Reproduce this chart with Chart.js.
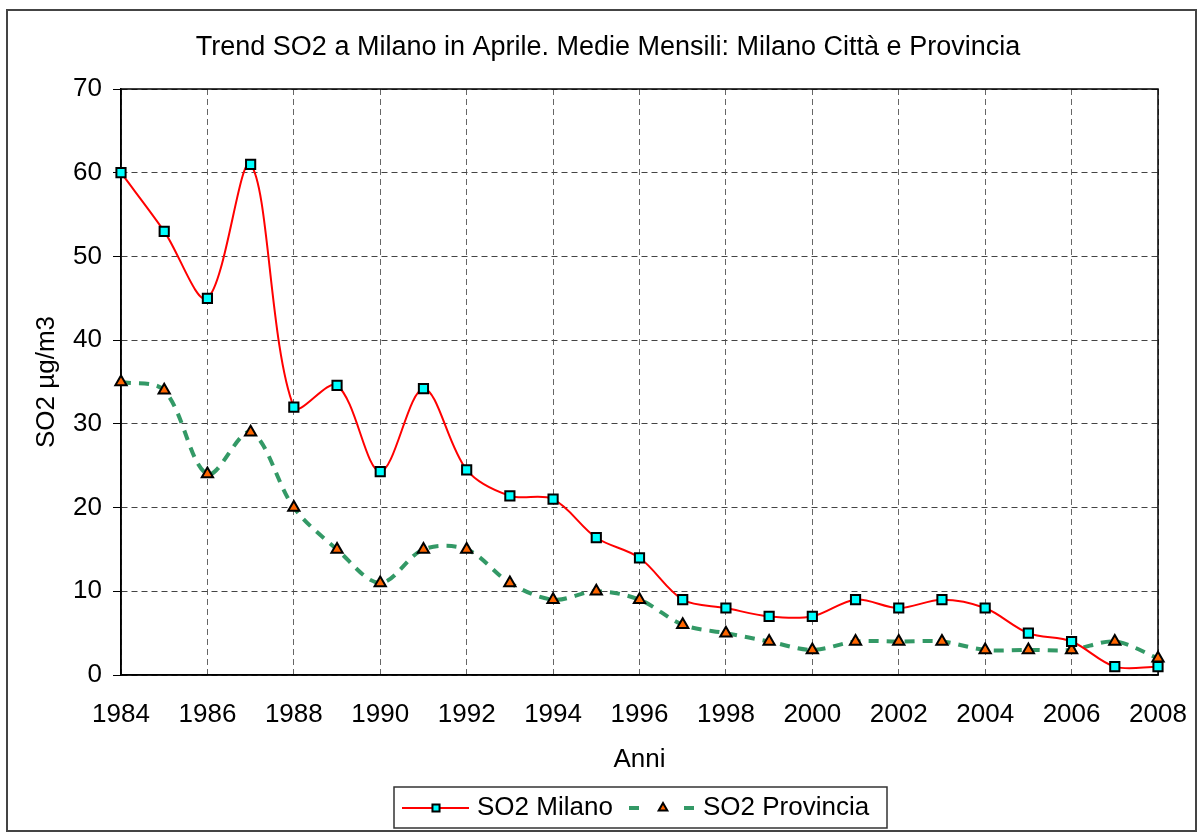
<!DOCTYPE html>
<html>
<head>
<meta charset="utf-8">
<script src="https://cdn.jsdelivr.net/npm/chart.js@4.4.1/dist/chart.umd.min.js"></script>
<style>
  body { margin: 0; background: #fff; }
  canvas { display: block; }
</style>
</head>
<body>
<canvas id="so2Chart" width="1197" height="832"></canvas>
<script>
// Chart data (April monthly means, SO2 µg/m3)
const years = [1984, 1985, 1986, 1987, 1988, 1989, 1990, 1991, 1992, 1993, 1994, 1995, 1996,
               1997, 1998, 1999, 2000, 2001, 2002, 2003, 2004, 2005, 2006, 2007, 2008];
const milano = [60, 53, 45, 61, 32, 34.6, 24.3, 34.2, 24.5, 21.4, 21, 16.4, 14,
                9, 8, 7, 7, 9, 8, 9, 8, 5, 4, 1, 1];
const provincia = [35, 34, 24, 29, 20, 15, 11, 15, 15, 11, 9, 10, 9,
                   6, 5, 4, 3, 4, 4, 4, 3, 3, 3, 4, 2];
const seriesNames = ['SO2 Milano', 'SO2 Provincia'];
const chartTitle = 'Trend SO2 a Milano in Aprile. Medie Mensili: Milano Città e Provincia';
const xAxisTitle = 'Anni';
const yAxisTitle = 'SO2 µg/m3';
const yMin = 0, yMax = 70, yStep = 10;
const xStep = 2;

const FONT = '"Liberation Sans", Arial, sans-serif';
const RED = '#ff0000';
const GREEN = '#339966';
const CYAN = '#00ffff';
const ORANGE = '#ff6600';

// Frame, title and legend drawn by hand (Excel style)
const excelLook = {
  id: 'excelLook',
  beforeDatasetsDraw(chart) {
    const { ctx, chartArea: a } = chart;
    ctx.save();
    ctx.strokeStyle = '#000';
    ctx.lineWidth = 1.5;
    ctx.strokeRect(a.left, a.top, a.right - a.left, a.bottom - a.top);
    ctx.restore();
  },
  afterDraw(chart) {
    const ctx = chart.ctx;
    ctx.save();

    // outer border
    ctx.strokeStyle = '#444';
    ctx.lineWidth = 2;
    ctx.strokeRect(7, 10, 1189, 821);

    // title
    ctx.fillStyle = '#000';
    ctx.font = '27px ' + FONT;
    ctx.textAlign = 'center';
    ctx.textBaseline = 'middle';
    ctx.fillText(chartTitle, 608, 48);

    // legend box
    ctx.strokeStyle = '#333';
    ctx.lineWidth = 1.5;
    ctx.strokeRect(394, 787, 493, 41);

    const ly = 808;
    // Milano entry
    ctx.strokeStyle = RED;
    ctx.lineWidth = 2;
    ctx.beginPath();
    ctx.moveTo(402, ly);
    ctx.lineTo(469, ly);
    ctx.stroke();
    ctx.fillStyle = CYAN;
    ctx.strokeStyle = '#000';
    ctx.lineWidth = 2;
    Chart.helpers.drawPoint(ctx, { pointStyle: 'rect', radius: 5, rotation: 0, borderWidth: 2 }, 436, ly);

    // Provincia entry
    ctx.strokeStyle = GREEN;
    ctx.lineWidth = 4;
    ctx.beginPath();
    ctx.moveTo(629, ly);
    ctx.lineTo(639, ly);
    ctx.moveTo(684, ly);
    ctx.lineTo(694, ly);
    ctx.stroke();
    ctx.fillStyle = ORANGE;
    ctx.strokeStyle = '#000';
    ctx.lineWidth = 2;
    Chart.helpers.drawPoint(ctx, { pointStyle: 'triangle', radius: 5, rotation: 0, borderWidth: 2 }, 663, ly);

    ctx.fillStyle = '#000';
    ctx.font = '26px ' + FONT;
    ctx.textAlign = 'left';
    ctx.textBaseline = 'middle';
    ctx.fillText(seriesNames[0], 477, ly);
    ctx.fillText(seriesNames[1], 703, ly);

    ctx.restore();
  }
};

const ctx = document.getElementById('so2Chart').getContext('2d');

new Chart(ctx, {
  type: 'line',
  data: {
    datasets: [
      {
        label: seriesNames[0],
        data: years.map((y, i) => ({ x: y, y: milano[i] })),
        borderColor: RED,
        borderWidth: 2,
        tension: 0.33,
        pointStyle: 'rect',
        pointRadius: 6.5,
        pointBackgroundColor: CYAN,
        pointBorderColor: '#000',
        pointBorderWidth: 2,
        clip: false
      },
      {
        label: seriesNames[1],
        data: years.map((y, i) => ({ x: y, y: provincia[i] })),
        borderColor: GREEN,
        borderWidth: 4,
        borderDash: [10, 8],
        tension: 0.33,
        pointStyle: 'triangle',
        pointRadius: 6.5,
        pointBackgroundColor: ORANGE,
        pointBorderColor: '#000',
        pointBorderWidth: 2,
        clip: false
      }
    ]
  },
  options: {
    responsive: false,
    animation: false,
    layout: {
      padding: { left: 10, right: 39, top: 89, bottom: 0 }
    },
    plugins: {
      legend: { display: false },
      title: { display: false },
      tooltip: { enabled: false }
    },
    scales: {
      x: {
        type: 'linear',
        min: years[0],
        max: years[years.length - 1],
        afterFit: scale => {
          scale.height = 157;
          scale.paddingLeft = 0;
          scale.paddingRight = 0;
        },
        ticks: {
          stepSize: xStep,
          color: '#000',
          font: { family: FONT, size: 26 },
          padding: 24,
          maxRotation: 0,
          callback: value => String(value)
        },
        grid: {
          color: '#666',
          drawTicks: false,
          borderDash: [6, 4]
        },
        border: { color: '#000', width: 1.5, dash: [6, 4] },
        title: {
          display: true,
          text: xAxisTitle,
          color: '#000',
          font: { family: FONT, size: 26 },
          padding: { top: 0, bottom: 57 }
        }
      },
      y: {
        min: yMin,
        max: yMax,
        afterFit: scale => {
          scale.width = 111;
          scale.paddingTop = 0;
          scale.paddingBottom = 0;
        },
        ticks: {
          stepSize: yStep,
          color: '#000',
          font: { family: FONT, size: 26 },
          padding: 11
        },
        grid: {
          color: '#444',
          tickLength: 8,
          tickColor: '#000',
          tickBorderDash: [],
          borderDash: [6, 4]
        },
        border: { color: '#000', width: 1.5, dash: [6, 4] },
        title: {
          display: true,
          text: yAxisTitle,
          color: '#000',
          font: { family: FONT, size: 26 },
          padding: { top: 21, bottom: 0 }
        }
      }
    }
  },
  plugins: [excelLook]
});
</script>
</body>
</html>
